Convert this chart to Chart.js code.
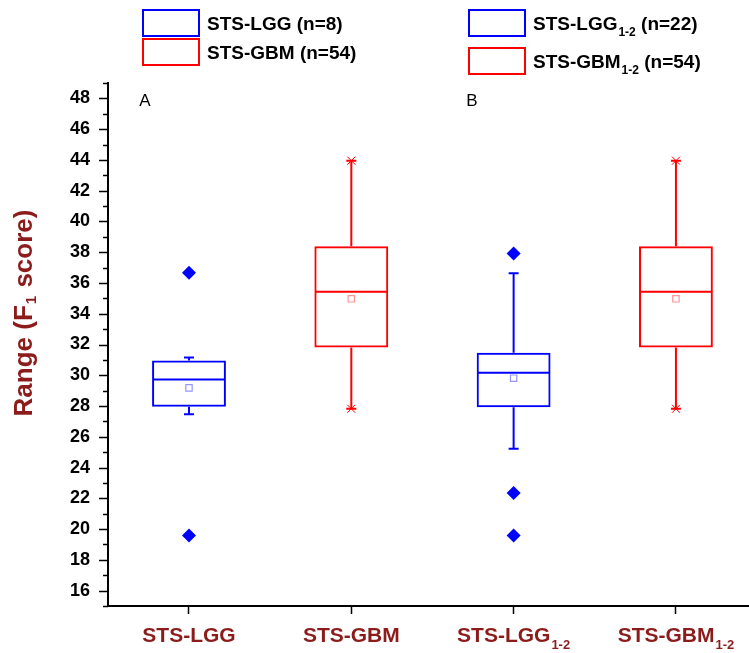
<!DOCTYPE html>
<html>
<head>
<meta charset="utf-8">
<script src="https://cdn.jsdelivr.net/npm/chart.js@4"></script>
<style>
  body { margin: 0; background: #fff; }
  #wrap { width: 749px; height: 653px; position: relative; }
</style>
</head>
<body>
<div id="wrap"><canvas id="boxChart"></canvas></div>
<script>
// Category names and subscripts
const categories = ["STS-LGG", "STS-GBM", "STS-LGG", "STS-GBM"];
const subscripts = ["", "", "1-2", "1-2"];
const groupSizes = ["(n=8)", "(n=54)", "(n=22)", "(n=54)"];
const panelLetters = ["A", "B"];

// Box statistics
const q1 = [27.95, 31.80, 27.92, 31.80];
const medians = [29.72, 35.43, 30.16, 35.43];
const q3 = [30.96, 38.39, 31.46, 38.39];
const means = [29.18, 34.97, 29.81, 34.97];
const whiskerLow = [27.47, 27.82, 25.22, 27.82];
const whiskerHigh = [31.15, 43.95, 36.64, 43.95];
const outliersLGG = [36.66, 19.58];
const outliersLGG12 = [37.92, 22.35, 19.58];

const yTickLabels = [16, 18, 20, 22, 24, 26, 28, 30, 32, 34, 36, 38, 40, 42, 44, 46, 48];

const BLUE = "#0000ff";
const RED = "#ff0000";
const DARKRED = "#8c1c1c";
const FONT = "'Liberation Sans', Arial, sans-serif";
const boxColors = [BLUE, RED, BLUE, RED];
const meanColors = ["rgba(80,80,255,0.6)", "rgba(255,80,80,0.6)", "rgba(80,80,255,0.6)", "rgba(255,80,80,0.6)"];

// draw "main" + subscript + rest, starting at x
function drawSubText(ctx, x, y, main, sub, rest, size, color, align) {
    ctx.save();
    ctx.fillStyle = color;
    ctx.textBaseline = "alphabetic";
    ctx.textAlign = "left";
    const big = "bold " + size + "px " + FONT;
    const small = "bold " + Math.round(size * 0.62) + "px " + FONT;
    ctx.font = big;
    const w1 = ctx.measureText(main).width;
    ctx.font = small;
    const w2 = sub ? ctx.measureText(sub).width + 1 : 0;
    ctx.font = big;
    const w3 = rest ? ctx.measureText(" " + rest).width : 0;
    let sx = x;
    if (align === "center") sx = x - (w1 + w2 + w3) / 2;
    ctx.fillText(main, sx, y);
    if (sub) {
        ctx.font = small;
        ctx.fillText(sub, sx + w1 + 1, y + size * 0.33);
    }
    if (rest) {
        ctx.font = big;
        ctx.fillText(" " + rest, sx + w1 + w2, y);
    }
    ctx.restore();
}

const boxPlugin = {
    id: "boxExtras",
    afterDatasetsDraw(chart) {
        const ctx = chart.ctx;
        const xs = chart.scales.x;
        const ys = chart.scales.y;
        const halfBox = xs.getPixelForValue(0.2215) - xs.getPixelForValue(0);
        ctx.save();
        ctx.lineWidth = 2;
        for (let i = 0; i < categories.length; i++) {
            const cx = xs.getPixelForValue(i);
            ctx.strokeStyle = boxColors[i];
            // median
            ctx.beginPath();
            ctx.moveTo(cx - halfBox, ys.getPixelForValue(medians[i]));
            ctx.lineTo(cx + halfBox, ys.getPixelForValue(medians[i]));
            // whiskers
            ctx.moveTo(cx, ys.getPixelForValue(q3[i]));
            ctx.lineTo(cx, ys.getPixelForValue(whiskerHigh[i]));
            ctx.moveTo(cx, ys.getPixelForValue(q1[i]));
            ctx.lineTo(cx, ys.getPixelForValue(whiskerLow[i]));
            // caps
            [whiskerHigh[i], whiskerLow[i]].forEach(v => {
                const py = ys.getPixelForValue(v);
                ctx.moveTo(cx - 5, py);
                ctx.lineTo(cx + 5, py);
            });
            ctx.stroke();
            if (boxColors[i] === RED) {
                // asterisk-like end markers
                ctx.lineWidth = 1;
                ctx.beginPath();
                [whiskerHigh[i], whiskerLow[i]].forEach(v => {
                    const py = ys.getPixelForValue(v);
                    ctx.moveTo(cx - 4, py - 4);
                    ctx.lineTo(cx + 4, py + 4);
                    ctx.moveTo(cx + 4, py - 4);
                    ctx.lineTo(cx - 4, py + 4);
                });
                ctx.stroke();
                ctx.lineWidth = 2;
            }
        }
        ctx.restore();
    },
    afterDraw(chart) {
        const ctx = chart.ctx;
        const xs = chart.scales.x;
        const ys = chart.scales.y;
        const area = chart.chartArea;
        ctx.save();
        // x axis line runs on to the right edge
        ctx.strokeStyle = "#000";
        ctx.lineWidth = 2;
        ctx.beginPath();
        ctx.moveTo(area.right - 1, area.bottom);
        ctx.lineTo(chart.width, area.bottom);
        ctx.stroke();
        // y tick marks: major every 2, minor every 1
        ctx.lineWidth = 1.5;
        ctx.beginPath();
        for (let v = 15; v <= 49; v++) {
            const py = Math.round(ys.getPixelForValue(v)) + 0.5;
            const len = yTickLabels.includes(v) ? 9 : 5;
            ctx.moveTo(area.left - len, py);
            ctx.lineTo(area.left, py);
        }
        ctx.stroke();
        // x category labels
        for (let i = 0; i < categories.length; i++) {
            drawSubText(ctx, xs.getPixelForValue(i), 642, categories[i], subscripts[i], "", 21, DARKRED, "center");
        }
        // y title
        ctx.translate(32, 313);
        ctx.rotate(-Math.PI / 2);
        ctx.font = "bold 26px " + FONT;
        const part1 = "Range (F";
        const part2 = " score)";
        const w1 = ctx.measureText(part1).width;
        const w3 = ctx.measureText(part2).width;
        ctx.font = "bold 15px " + FONT;
        const w2 = ctx.measureText("1").width + 2;
        const total = w1 + w2 + w3;
        ctx.fillStyle = DARKRED;
        ctx.font = "bold 26px " + FONT;
        ctx.fillText(part1, -total / 2, 0);
        ctx.font = "bold 15px " + FONT;
        ctx.fillText("1", -total / 2 + w1 + 1, 4);
        ctx.font = "bold 26px " + FONT;
        ctx.fillText(part2, -total / 2 + w1 + w2, 0);
        ctx.restore();

        // panel letters
        ctx.save();
        ctx.fillStyle = "#000";
        ctx.font = "17px " + FONT;
        ctx.textAlign = "center";
        ctx.fillText(panelLetters[0], 145, 106);
        ctx.fillText(panelLetters[1], 472, 106);
        ctx.restore();

        // legend, two columns
        const cols = [{ x: 143, rows: [0, 1], ys: [10, 39] }, { x: 469, rows: [2, 3], ys: [10, 48] }];
        ctx.save();
        cols.forEach(col => {
            col.rows.forEach((idx, r) => {
                ctx.strokeStyle = boxColors[idx];
                ctx.lineWidth = 2;
                ctx.strokeRect(col.x, col.ys[r], 56, 26);
                drawSubText(ctx, col.x + 64, col.ys[r] + 20, categories[idx], subscripts[idx], groupSizes[idx], 19, "#000", "left");
            });
        });
        ctx.restore();
    }
};

const outlierPoints = outliersLGG.map(v => ({ x: 0, y: v })).concat(outliersLGG12.map(v => ({ x: 2, y: v })));

const ctx = document.getElementById("boxChart").getContext("2d");
const boxChart = new Chart(ctx, {
    data: {
        datasets: [
            {
                type: "bar",
                data: categories.map((c, i) => ({ x: i, y: [q1[i], q3[i]] })),
                backgroundColor: "rgba(255,255,255,0)",
                borderColor: boxColors,
                borderWidth: 2,
                borderSkipped: false,
                barPercentage: 0.455,
                categoryPercentage: 1,
            },
            {
                type: "scatter",
                data: means.map((v, i) => ({ x: i, y: v })),
                pointStyle: "rect",
                pointRadius: 4.5,
                pointBorderWidth: 1.2,
                pointBorderColor: meanColors,
                pointBackgroundColor: "rgba(255,255,255,0)",
            },
            {
                type: "scatter",
                data: outlierPoints,
                pointStyle: "rectRot",
                pointRadius: 7,
                pointBorderWidth: 0,
                pointBackgroundColor: BLUE,
                pointBorderColor: BLUE,
            },
        ],
    },
    options: {
        responsive: true,
        maintainAspectRatio: false,
        animation: false,
        layout: { padding: { top: 83, left: 0, right: 0, bottom: 0 } },
        plugins: { legend: { display: false }, tooltip: { enabled: false } },
        scales: {
            x: {
                type: "linear",
                offset: false,
                min: -0.499,
                max: 3.407,
                afterBuildTicks: (scale) => { scale.ticks = categories.map((c, i) => ({ value: i })); },
                afterFit: (scale) => { scale.height = 47; },
                ticks: { display: false },
                grid: { offset: false, drawOnChartArea: false, tickLength: 8, tickColor: "#000", tickWidth: 1.5 },
                border: { color: "#000", width: 2 },
            },
            y: {
                min: 15,
                max: 49,
                afterBuildTicks: (scale) => { scale.ticks = yTickLabels.map(v => ({ value: v })); },
                afterFit: (scale) => { scale.width = 108; },
                ticks: {
                    autoSkip: false,
                    padding: 9,
                    color: "#000",
                    font: { family: FONT, size: 18, weight: "bold" },
                },
                grid: { drawOnChartArea: false, tickLength: 9, tickColor: "rgba(0,0,0,0)" },
                border: { color: "#000", width: 2 },
            },
        },
    },
    plugins: [boxPlugin],
});
</script>
</body>
</html>
